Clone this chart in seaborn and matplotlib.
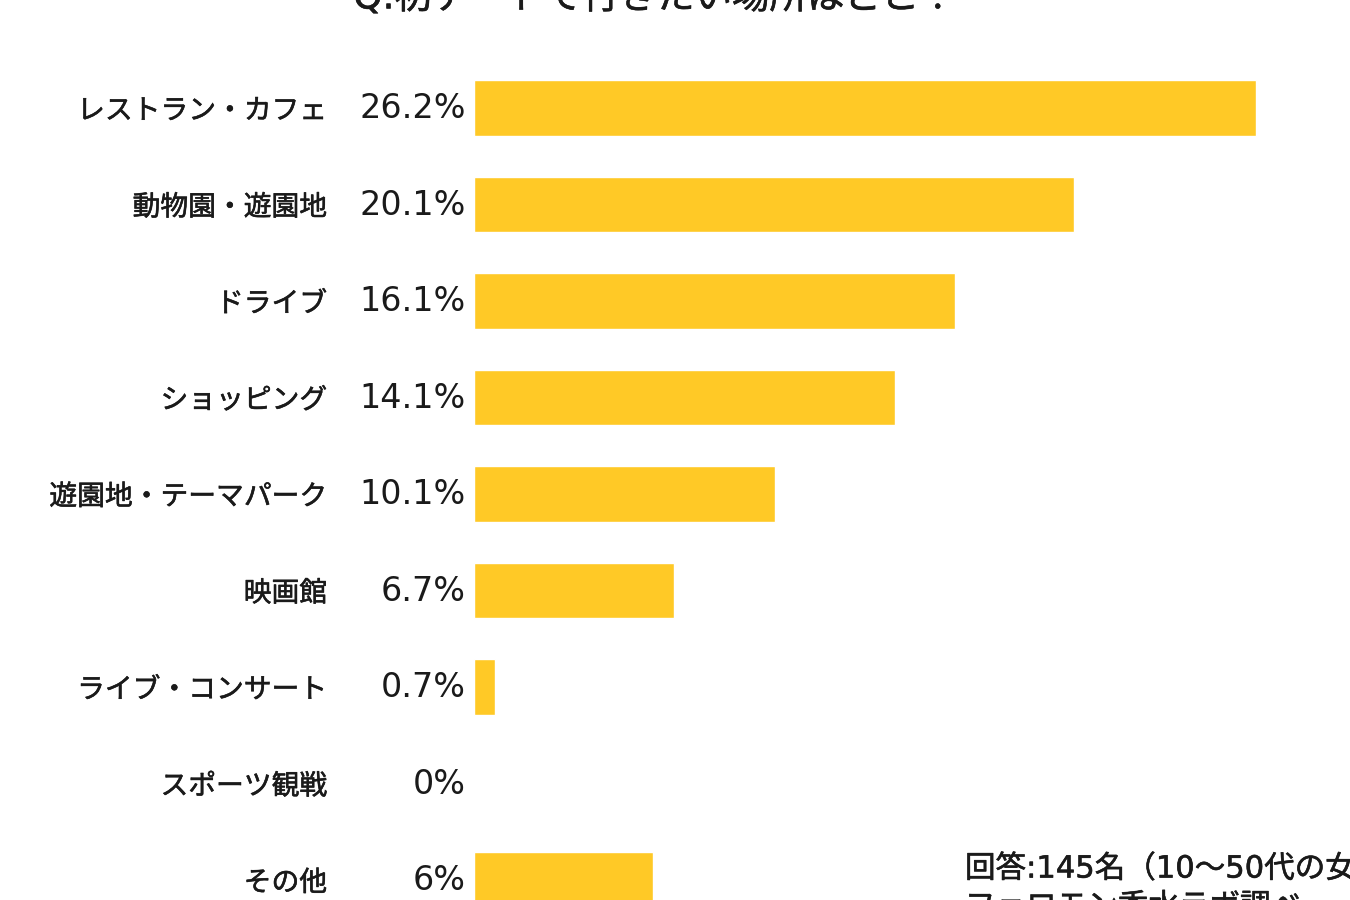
import matplotlib
matplotlib.use("Agg")
import matplotlib.pyplot as plt
import matplotlib.transforms as mtransforms
import matplotlib.patheffects as pe
import seaborn as sns
import pandas as pd

categories = ["レストラン・カフェ", "動物園・遊園地", "ドライブ", "ショッピング",
              "遊園地・テーマパーク", "映画館", "ライブ・コンサート", "スポーツ観戦", "その他"]
values = [26.2, 20.1, 16.1, 14.1, 10.1, 6.7, 0.7, 0, 6]
value_labels = ["26.2%", "20.1%", "16.1%", "14.1%", "10.1%", "6.7%", "0.7%", "0%", "6%"]
title = "Q.初デートで行きたい場所はどこ？"
note_lines = ["回答:145名（10〜50代の女性）", "フェロモン香水ラボ調べ"]

sns.set_theme(style="white")
plt.rcParams['font.family'] = ['Noto Sans CJK JP', 'DejaVu Sans']

W, H = 1350, 900
fig = plt.figure(figsize=(W / 100, H / 100), dpi=100)
fig.patch.set_facecolor("white")

x0_px = 474
px_per_unit = 29.85
first_center = 108
spacing = 96.5

ax = fig.add_axes([x0_px / W, 0, (W - x0_px) / W, 1])
df = pd.DataFrame({"cat": categories, "val": values})
sns.barplot(data=df, y="cat", x="val", orient="h", color="#FFC926",
            saturation=1, width=0.58, ax=ax, order=categories)
ax.set_xlim(0, (W - x0_px) / px_per_unit)
ax.set_ylim((H - first_center) / spacing, -first_center / spacing)
ax.axis("off")

medium = [pe.withStroke(linewidth=0.4, foreground="#1a1a1a")]
trans = mtransforms.blended_transform_factory(fig.transFigure, ax.transData)
for i, (c, lab) in enumerate(zip(categories, value_labels)):
    ax.text(327 / W, i + 0.03, c, transform=trans, ha="right", va="center",
            fontsize=20, color="#1a1a1a", path_effects=medium)
    ax.text(466 / W, i + 0.01, lab, transform=trans, ha="right", va="center",
            fontsize=24, color="#1a1a1a", family=['DejaVu Sans'])

fig.text(655 / W, 1 - (-2) / H, title, ha="center", va="center",
         fontsize=27, color="#1a1a1a", family=['DejaVu Sans', 'Noto Sans CJK JP'],
         path_effects=medium)
fig.text(965 / W, 1 - 869 / H, note_lines[0], ha="left", va="center",
         fontsize=22, color="#1a1a1a", family=['DejaVu Sans', 'Noto Sans CJK JP'],
         path_effects=medium)
fig.text(965 / W, 1 - 907 / H, note_lines[1], ha="left", va="center",
         fontsize=22, color="#1a1a1a", family=['DejaVu Sans', 'Noto Sans CJK JP'],
         path_effects=medium)

fig.savefig("out.png", dpi=100, facecolor="white")
